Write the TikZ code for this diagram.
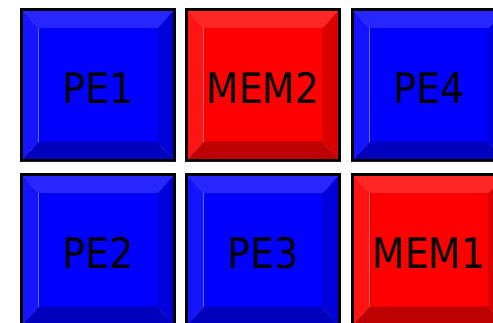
\documentclass[tikz,border=0pt]{standalone}
\usepackage{fontspec}
\setmainfont{DejaVu Sans Condensed}
\usepackage{tikz}
\usetikzlibrary{positioning}
\definecolor{peBlue}{HTML}{0000FF}
\definecolor{memRed}{HTML}{FF0000}
\definecolor{edgeGray}{HTML}{202020}
\tikzset{
  tileBox/.style={rectangle, minimum width=153pt, minimum height=151pt,
                  inner sep=0pt},
  faceBox/.style={rectangle, minimum width=118pt, minimum height=113pt,
                  inner sep=0pt, line width=0.6pt, text height=37pt,
                  text depth=0pt, font=\fontsize{42}{42}\selectfont},
  tileEdge/.style={draw=black, line width=3pt},
}
% name, centre, colour, label
\newcommand{\tile}[4]{%
  \node[tileBox] (#1) at (#2) {};
  \node[faceBox, fill=#3, draw=#3!90!black] (#1f) at (#1) {#4};
  \fill[#3!85!white] (#1.north west) -- (#1.north east)
    -- (#1f.north east) -- (#1f.north west) -- cycle;
  \fill[#3!92!white] (#1.north west) -- (#1f.north west)
    -- (#1f.south west) -- (#1.south west) -- cycle;
  \fill[#3!86!black] (#1.north east) -- (#1.south east)
    -- (#1f.south east) -- (#1f.north east) -- cycle;
  \fill[#3!74!black] (#1.south west) -- (#1f.south west)
    -- (#1f.south east) -- (#1.south east) -- cycle;
  \draw[tileEdge] (#1.north west) rectangle (#1.south east);
  \draw[edgeGray, line width=1.5pt] ([yshift=-0.75pt]#1.south west)
    -- ([yshift=-0.75pt]#1.south east);
}

\begin{document}
\begin{tikzpicture}[x=1pt, y=-1pt]
  \useasboundingbox (0,0) rectangle (493,322);
  % top row
  \tile{pe1}{98,85}{peBlue}{PE1}
  \tile{mem2}{263,85}{memRed}{MEM2}
  \tile{pe4}{429,85}{peBlue}{PE4}
  % bottom row
  \tile{pe2}{98,250}{peBlue}{PE2}
  \tile{pe3}{263,250}{peBlue}{PE3}
  \tile{mem1}{429,250}{memRed}{MEM1}
\end{tikzpicture}
\end{document}
